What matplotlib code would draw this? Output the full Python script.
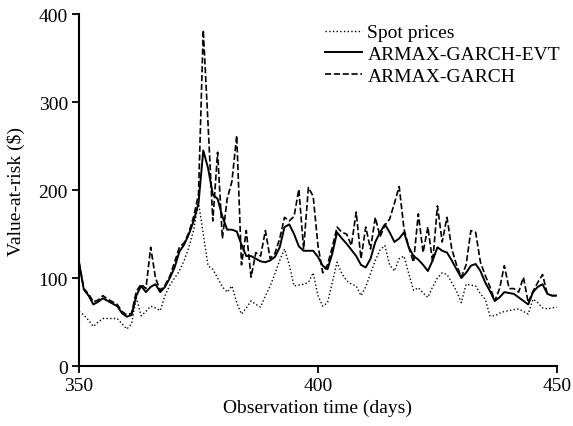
import numpy as np
import matplotlib.pyplot as plt

plt.rcParams['font.family'] = ['Liberation Serif', 'DejaVu Serif']

days = np.arange(350, 451)

# ARMAX-GARCH-EVT (solid)
evt = [118, 87, 80, 70, 73, 77, 74, 71, 68, 60,
       56, 58, 80, 91, 84, 90, 93, 84, 90, 100,
       112, 130, 138, 150, 165, 185, 245, 225, 195, 190,
       170, 155, 155, 153, 138, 125, 125, 122, 119, 118,
       120, 124, 135, 158, 161, 150, 136, 131, 131, 131,
       124, 114, 110, 128, 152, 145, 139, 132, 125, 115,
       112, 122, 141, 152, 161, 152, 141, 145, 152, 135,
       125, 121, 115, 108, 120, 135, 131, 129, 120, 110,
       100, 106, 114, 116, 108, 95, 85, 74, 78, 84,
       83, 82, 78, 74, 70, 84, 90, 93, 82, 80,
       80]

# ARMAX-GARCH (dashed)
garch = [118, 88, 82, 73, 75, 80, 76, 73, 70, 62,
         58, 60, 85, 93, 88, 135, 100, 86, 92, 102,
         118, 135, 140, 152, 170, 195, 382, 275, 165, 243,
         145, 190, 210, 262, 115, 154, 101, 129, 125, 154,
         122, 128, 145, 169, 165, 170, 201, 133, 203, 193,
         137, 106, 115, 135, 158, 152, 150, 137, 175, 122,
         158, 133, 169, 147, 160, 167, 185, 204, 156, 135,
         118, 173, 129, 158, 118, 182, 141, 169, 133, 115,
         101, 115, 154, 152, 118, 103, 90, 74, 88, 114,
         88, 88, 84, 101, 72, 85, 95, 104, 82, 80,
         80]

# Spot prices (dotted)
spot = [62, 58, 52, 45, 50, 54, 54, 54, 54, 48,
        42, 48, 78, 57, 62, 68, 66, 63, 80, 92,
        100, 108, 120, 135, 155, 186, 150, 114, 110, 100,
        90, 84, 91, 72, 59, 66, 74, 70, 67, 80,
        91, 105, 120, 133, 115, 91, 92, 93, 95, 106,
        80, 68, 72, 95, 118, 105, 97, 93, 91, 80,
        90, 105, 120, 132, 137, 115, 108, 122, 125, 105,
        86, 89, 83, 78, 90, 100, 106, 104, 95, 85,
        72, 93, 92, 91, 82, 76, 57, 57, 60, 62,
        63, 64, 65, 62, 59, 76, 72, 66, 65, 66,
        67]

fig = plt.figure(figsize=(5.73, 4.27), dpi=100)
ax = fig.add_axes([0.1379, 0.1405, 0.834, 0.824])

ax.plot(days, spot, color='k', linestyle=':', linewidth=1.0, label='Spot prices')
ax.plot(days, evt, color='k', linestyle='-', linewidth=1.4, label='ARMAX-GARCH-EVT')
ax.plot(days, garch, color='k', linestyle='--', linewidth=1.2, label='ARMAX-GARCH')

ax.set_xlim(350, 450)
ax.set_ylim(0, 400)
ax.set_xticks([350, 400, 450])
ax.set_yticks([0, 100, 200, 300, 400])
ax.spines['top'].set_visible(False)
ax.spines['right'].set_visible(False)
ax.spines['left'].set_linewidth(1.5)
ax.spines['bottom'].set_linewidth(1.5)
ax.tick_params(direction='out', length=5, width=1.3, labelsize=14, pad=3)

ax.set_xlabel('Observation time (days)', fontsize=14)
ax.set_ylabel('Value-at-risk ($)', fontsize=14)
ax.xaxis.set_label_coords(0.5, -0.094)
ax.yaxis.set_label_coords(-0.112, 0.5)

ax.legend(loc='upper right', frameon=False, fontsize=14, handlelength=1.9,
          handletextpad=0.3, labelspacing=0.22, borderaxespad=0.0,
          bbox_to_anchor=(1.023, 0.995))

fig.savefig('out.png', dpi=100)
